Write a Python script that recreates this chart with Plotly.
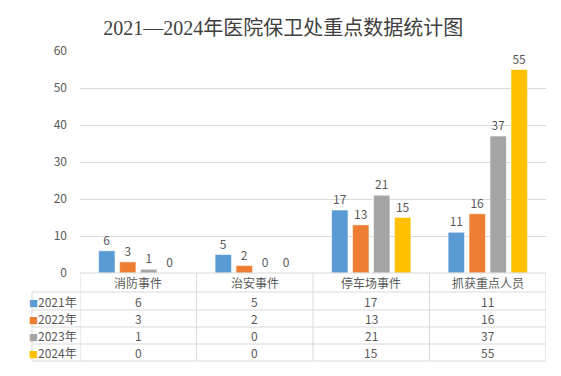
import plotly.graph_objects as go

categories = ["消防事件", "治安事件", "停车场事件", "抓获重点人员"]
years = ["2021年", "2022年", "2023年", "2024年"]
values = {
    "2021年": [6, 5, 17, 11],
    "2022年": [3, 2, 13, 16],
    "2023年": [1, 0, 21, 37],
    "2024年": [0, 0, 15, 55],
}
colors = ["#5B9BD5", "#ED7D31", "#A5A5A5", "#FFC000"]
yticks = [0, 10, 20, 30, 40, 50, 60]

FONT = "Noto Sans CJK SC, Noto Sans, sans-serif"
TXT = "#595959"
LINE = "#D9D9D9"

fig = go.Figure()
for yr, c in zip(years, colors):
    fig.add_trace(go.Bar(
        x=categories, y=values[yr], name=yr, marker=dict(color=c, line=dict(color="white", width=0.5)),
        text=values[yr], textposition="outside", cliponaxis=False,
        textfont=dict(size=12, color=TXT, family=FONT),
    ))

# Plot area geometry (px) for the data table placed under the axis
plot_top, plot_bottom = 51, 273
ph = plot_bottom - plot_top
def py(p):
    return (plot_bottom - p) / ph

row_lines = [273, 292, 310, 327, 344, 361]
left_edge = (32 - 80) / 466

shapes = []
for i, r in enumerate(row_lines):
    if i == 0:
        shapes.append(dict(type="line", xref="x", yref="paper", x0=-0.5, x1=3.5,
                           y0=py(r), y1=py(r), line=dict(color=LINE, width=1)))
    else:
        shapes.append(dict(type="line", xref="paper", yref="paper", x0=left_edge, x1=1,
                           y0=py(r), y1=py(r), line=dict(color=LINE, width=1)))
for k in range(len(categories) + 1):
    shapes.append(dict(type="line", xref="x", yref="paper", x0=k - 0.5, x1=k - 0.5,
                       y0=py(row_lines[0]), y1=py(row_lines[-1]), line=dict(color=LINE, width=1)))
shapes.append(dict(type="line", xref="paper", yref="paper", x0=left_edge, x1=left_edge,
                   y0=py(row_lines[1]), y1=py(row_lines[-1]), line=dict(color=LINE, width=1)))

annotations = []
hc = (row_lines[0] + row_lines[1]) / 2
for cat in categories:
    annotations.append(dict(x=cat, xref="x", y=py(hc), yref="paper", text=cat, showarrow=False,
                            font=dict(size=12, color=TXT, family=FONT), xanchor="center", yanchor="middle"))
for i, (yr, c) in enumerate(zip(years, colors)):
    rc = (row_lines[i + 1] + row_lines[i + 2]) / 2
    annotations.append(dict(x=-0.002, xref="paper", y=py(rc), yref="paper",
                            text=f"<span style='color:{c};font-size:9px'>■</span>{yr}", showarrow=False,
                            font=dict(size=12, color=TXT, family=FONT), xanchor="right", yanchor="middle"))
    for cat, v in zip(categories, values[yr]):
        annotations.append(dict(x=cat, xref="x", y=py(rc), yref="paper", text=str(v), showarrow=False,
                                font=dict(size=12, color=TXT, family=FONT), xanchor="center", yanchor="middle"))

fig.update_layout(
    width=561, height=376,
    margin=dict(l=80, r=15, t=51, b=103),
    paper_bgcolor="white", plot_bgcolor="white",
    barmode="group", bargap=0.28, bargroupgap=0.22,
    showlegend=False,
    title=dict(text="2021—2024年医院保卫处重点数据统计图", x=0.505, xanchor="center", y=0.925, yanchor="middle",
               font=dict(size=20, color="#404040", family="Liberation Serif, Noto Sans CJK SC, serif")),
    xaxis=dict(showticklabels=False, showgrid=False, showline=False, ticks="", range=[-0.5, 3.5]),
    yaxis=dict(range=[0, 60], tickvals=yticks, showgrid=True, gridcolor=LINE, gridwidth=1,
               zeroline=False, showline=False, ticks="", ticklabelstandoff=12,
               tickfont=dict(size=12, color=TXT, family=FONT)),
    shapes=shapes, annotations=annotations,
)

fig.write_html("out.html")
